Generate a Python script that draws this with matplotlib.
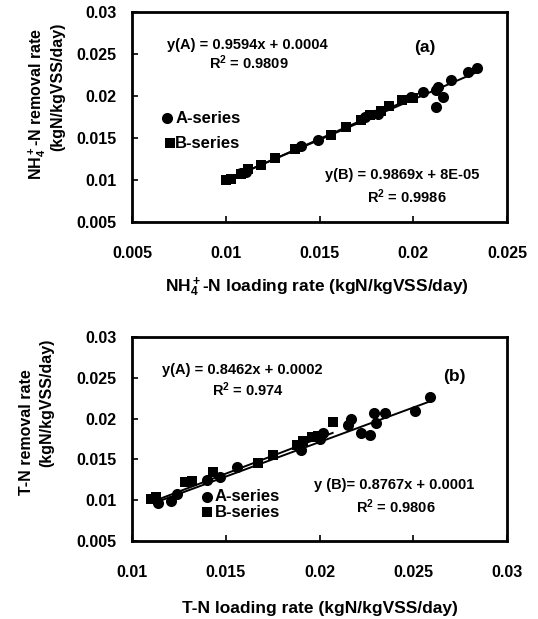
import matplotlib
matplotlib.use('Agg')
import matplotlib.pyplot as plt
import numpy as np

plt.rcParams['font.family'] = ['Liberation Sans', 'DejaVu Sans']
plt.rcParams['font.weight'] = 'bold'
plt.rcParams['mathtext.fontset'] = 'custom'
plt.rcParams['mathtext.rm'] = 'Liberation Sans:bold'
plt.rcParams['mathtext.it'] = 'Liberation Sans:bold'
plt.rcParams['mathtext.bf'] = 'Liberation Sans:bold'

# (a) NH4+-N loading vs removal rate
nh4_a_load = [0.0108, 0.0111, 0.0140, 0.0149, 0.0174, 0.0181, 0.0199, 0.0205,
              0.0212, 0.0213, 0.0212, 0.0216, 0.0220, 0.0229, 0.0234]
nh4_a_rem = [0.0108, 0.0110, 0.0140, 0.0148, 0.0175, 0.0179, 0.0199, 0.0205,
             0.0207, 0.0211, 0.0187, 0.0199, 0.0219, 0.0229, 0.0233]
nh4_b_load = [0.0100, 0.0103, 0.0108, 0.0112, 0.0119, 0.0126, 0.0137, 0.0156,
              0.0164, 0.0172, 0.0177, 0.0183, 0.0187, 0.0194, 0.0200]
nh4_b_rem = [0.0100, 0.0101, 0.0107, 0.0113, 0.0118, 0.0126, 0.0137, 0.0153,
             0.0163, 0.0171, 0.0177, 0.0182, 0.0188, 0.0195, 0.0198]
nh4_fit_a = (0.9594, 0.0004)
nh4_fit_b = (0.9869, 0.00008)
nh4_r2 = ('0.9809', '0.9986')

# (b) T-N loading vs removal rate
tn_a_load = [0.0114, 0.0121, 0.0124, 0.0140, 0.0147, 0.0156, 0.0190, 0.0200,
             0.0202, 0.0215, 0.0217, 0.0222, 0.0227, 0.0229, 0.0230, 0.0235,
             0.0251, 0.0259]
tn_a_rem = [0.0096, 0.0099, 0.0107, 0.0125, 0.0128, 0.0141, 0.0162, 0.0175,
            0.0182, 0.0192, 0.0200, 0.0182, 0.0180, 0.0207, 0.0195, 0.0207,
            0.0209, 0.0227]
tn_b_load = [0.0110, 0.0113, 0.0128, 0.0132, 0.0143, 0.0167, 0.0175, 0.0188,
             0.0191, 0.0196, 0.0199, 0.0207]
tn_b_rem = [0.0101, 0.0104, 0.0122, 0.0124, 0.0134, 0.0145, 0.0156, 0.0168,
            0.0172, 0.0177, 0.0179, 0.0196]
tn_fit_a = (0.8462, 0.0002)
tn_fit_b = (0.8767, 0.0001)
tn_r2 = ('0.974', '0.9806')

y_ticks = [0.005, 0.01, 0.015, 0.02, 0.025, 0.03]
y_ticklabels = ['0.005', '0.01', '0.015', '0.02', '0.025', '0.03']
nh4_x_ticks = [0.005, 0.01, 0.015, 0.02, 0.025]
nh4_x_ticklabels = ['0.005', '0.01', '0.015', '0.02', '0.025']
tn_x_ticks = [0.01, 0.015, 0.02, 0.025, 0.03]
tn_x_ticklabels = ['0.01', '0.015', '0.02', '0.025', '0.03']


def fmt(v):
    return ('%g' % v).upper()


def panel(ax, xa, ya, xb, yb, fit_a, fit_b, xticks, xticklabels):
    ax.plot(xa, ya, 'o', color='black', ms=8, mew=0)
    ax.plot(xb, yb, 's', color='black', ms=7.5, mew=0)
    # trend lines over each series' range
    for xs, (m, c) in ((xa, fit_a), (xb, fit_b)):
        xx = np.array([min(xs), max(xs)])
        ax.plot(xx, m * xx + c, color='black', lw=1.4)
    ax.set_xlim(xticks[0], xticks[-1])
    ax.set_ylim(y_ticks[0], y_ticks[-1])
    ax.set_xticks(xticks)
    ax.set_xticklabels(xticklabels)
    ax.set_yticks(y_ticks)
    ax.set_yticklabels(y_ticklabels)
    ax.tick_params(axis='both', direction='in', length=4, width=1.2, labelsize=11.5)
    ax.tick_params(axis='x', pad=17)
    ax.tick_params(axis='y', pad=11)
    for s in ax.spines.values():
        s.set_linewidth(2.0)


W, H = 538, 619
fig = plt.figure(figsize=(W / 100, H / 100), dpi=100)
ax1 = fig.add_axes([132 / W, 1 - 222 / H, 375 / W, 210 / H])
ax2 = fig.add_axes([132 / W, 1 - 541 / H, 375 / W, 204 / H])

panel(ax1, nh4_a_load, nh4_a_rem, nh4_b_load, nh4_b_rem, nh4_fit_a, nh4_fit_b,
      nh4_x_ticks, nh4_x_ticklabels)
panel(ax2, tn_a_load, tn_a_rem, tn_b_load, tn_b_rem, tn_fit_a, tn_fit_b,
      tn_x_ticks, tn_x_ticklabels)

eq = dict(fontsize=10.5, ha='center', va='center')
ax1.text(0.307, 0.843, 'y(A) = %sx + %s' % (fmt(nh4_fit_a[0]), fmt(nh4_fit_a[1])),
         transform=ax1.transAxes, **eq)
ax1.text(0.312, 0.757, 'R$^2$ = ' + nh4_r2[0], transform=ax1.transAxes, **eq)
ax1.text(0.720, 0.224, 'y(B) = %sx + %s' % (fmt(nh4_fit_b[0]), fmt(nh4_fit_b[1])),
         transform=ax1.transAxes, **eq)
ax1.text(0.733, 0.119, 'R$^2$ = ' + nh4_r2[1], transform=ax1.transAxes, **eq)
ax1.text(0.781, 0.833, '(a)', transform=ax1.transAxes, fontsize=12.5,
         ha='center', va='center')

ax2.text(0.295, 0.838, 'y(A) = %sx + %s' % (fmt(tn_fit_a[0]), fmt(tn_fit_a[1])),
         transform=ax2.transAxes, **eq)
ax2.text(0.309, 0.740, 'R$^2$ = ' + tn_r2[0], transform=ax2.transAxes, **eq)
ax2.text(0.699, 0.275, 'y (B)= %sx + %s' % (fmt(tn_fit_b[0]), fmt(tn_fit_b[1])),
         transform=ax2.transAxes, **eq)
ax2.text(0.704, 0.167, 'R$^2$ = ' + tn_r2[1], transform=ax2.transAxes, **eq)
ax2.text(0.861, 0.804, '(b)', transform=ax2.transAxes, fontsize=12.5,
         ha='center', va='center')

# hand-placed legends inside each frame
for ax, mx, my, tx in ((ax1, (0.093, 0.101), (0.495, 0.376), 0.115),
                       (ax2, (0.200, 0.200), (0.216, 0.142), 0.221)):
    ax.plot(mx[0], my[0], 'o', color='black', ms=8, mew=0,
            transform=ax.transAxes, clip_on=False)
    ax.plot(mx[1], my[1], 's', color='black', ms=7.5, mew=0,
            transform=ax.transAxes, clip_on=False)
    ax.text(tx, my[0], 'A-series', transform=ax.transAxes, fontsize=12,
            ha='left', va='center')
    ax.text(tx, my[1], 'B-series', transform=ax.transAxes, fontsize=12,
            ha='left', va='center')

# axis titles
fig.text(317 / W, 1 - 287 / H, 'NH$_4^+$-N loading rate (kgN/kgVSS/day)',
         fontsize=12.5, ha='center', va='center')
fig.text(320 / W, 1 - 608 / H, 'T-N loading rate (kgN/kgVSS/day)',
         fontsize=12.5, ha='center', va='center')
fig.text(37 / W, 1 - 104 / H, 'NH$_4^+$-N removal rate', rotation=90,
         fontsize=11.5, ha='center', va='center')
fig.text(58 / W, 1 - 87 / H, '(kgN/kgVSS/day)', rotation=90,
         fontsize=11.5, ha='center', va='center')
fig.text(27 / W, 1 - 432 / H, 'T-N removal rate', rotation=90,
         fontsize=11.5, ha='center', va='center')
fig.text(47 / W, 1 - 403 / H, '(kgN/kgVSS/day)', rotation=90,
         fontsize=11.5, ha='center', va='center')

fig.savefig('out.png', dpi=100)
